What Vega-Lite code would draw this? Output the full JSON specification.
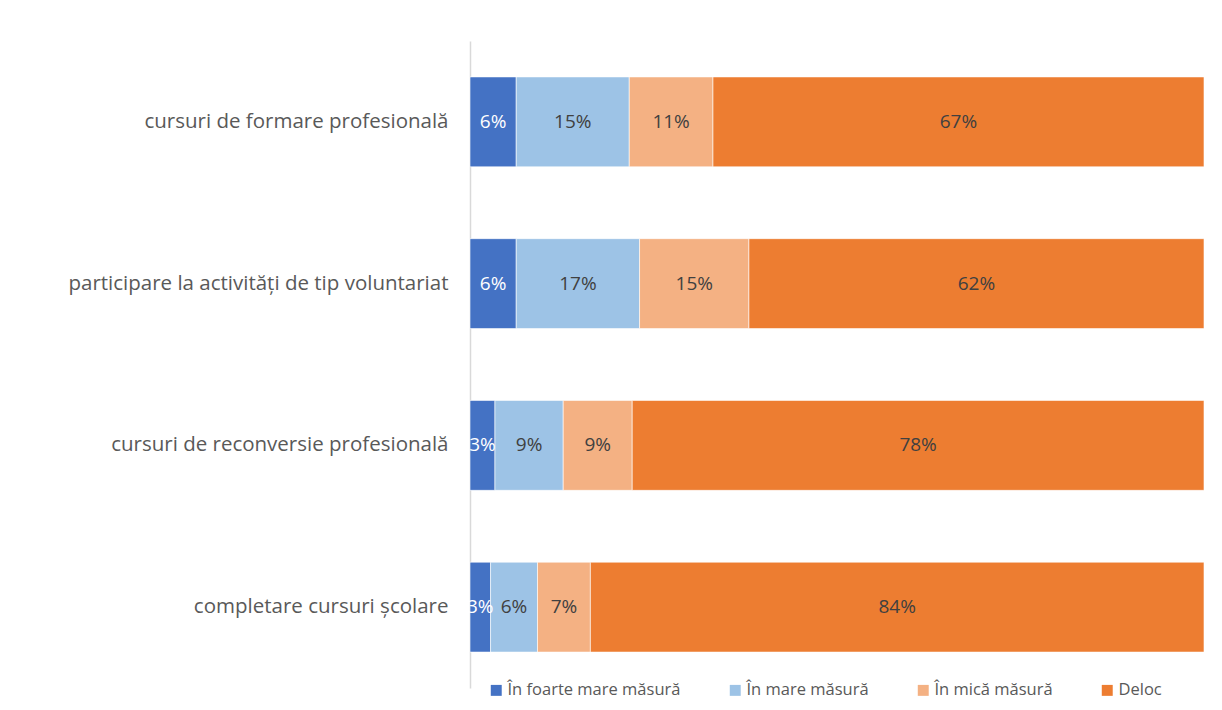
{
  "$schema": "https://vega.github.io/schema/vega-lite/v6.json",
  "autosize": "none",
  "width": 734,
  "height": 647,
  "padding": {"left": 470, "top": 41, "right": 18, "bottom": 22},
  "background": "white",
  "config": {"view": {"stroke": null}, "font": "Open Sans"},
  "data": {"values": [
    {"cat": "cursuri de formare profesională", "resp": "În foarte mare măsură", "k": 1, "v": 0.063},
    {"cat": "cursuri de formare profesională", "resp": "În mare măsură", "k": 2, "v": 0.154},
    {"cat": "cursuri de formare profesională", "resp": "În mică măsură", "k": 3, "v": 0.114},
    {"cat": "cursuri de formare profesională", "resp": "Deloc", "k": 4, "v": 0.669},
    {"cat": "participare la activități de tip voluntariat", "resp": "În foarte mare măsură", "k": 1, "v": 0.063},
    {"cat": "participare la activități de tip voluntariat", "resp": "În mare măsură", "k": 2, "v": 0.168},
    {"cat": "participare la activități de tip voluntariat", "resp": "În mică măsură", "k": 3, "v": 0.149},
    {"cat": "participare la activități de tip voluntariat", "resp": "Deloc", "k": 4, "v": 0.62},
    {"cat": "cursuri de reconversie profesională", "resp": "În foarte mare măsură", "k": 1, "v": 0.034},
    {"cat": "cursuri de reconversie profesională", "resp": "În mare măsură", "k": 2, "v": 0.093},
    {"cat": "cursuri de reconversie profesională", "resp": "În mică măsură", "k": 3, "v": 0.094},
    {"cat": "cursuri de reconversie profesională", "resp": "Deloc", "k": 4, "v": 0.779},
    {"cat": "completare cursuri școlare", "resp": "În foarte mare măsură", "k": 1, "v": 0.028},
    {"cat": "completare cursuri școlare", "resp": "În mare măsură", "k": 2, "v": 0.064},
    {"cat": "completare cursuri școlare", "resp": "În mică măsură", "k": 3, "v": 0.072},
    {"cat": "completare cursuri școlare", "resp": "Deloc", "k": 4, "v": 0.836}
  ]},
  "transform": [
    {"stack": "v", "groupby": ["cat"], "sort": [{"field": "k", "order": "ascending"}], "offset": "normalize", "as": ["v0", "v1"]},
    {"calculate": "(datum.v0 + datum.v1) / 2", "as": "vmid"}
  ],
  "encoding": {
    "y": {
      "field": "cat", "type": "nominal", "sort": null,
      "scale": {"paddingInner": 0.444, "paddingOuter": 0.222},
      "axis": {"title": null, "ticks": false, "domainColor": "#D9D9D9", "domainWidth": 1.5,
               "labelFontSize": 20.5, "labelColor": "#595959", "labelPadding": 22, "labelLimit": 460}
    }
  },
  "layer": [
    {
      "mark": {"type": "bar", "stroke": "white", "strokeWidth": 0.6},
      "encoding": {
        "x": {"field": "v0", "type": "quantitative", "axis": null, "scale": {"domain": [0, 1], "nice": false}},
        "x2": {"field": "v1"},
        "color": {
          "field": "resp", "type": "nominal",
          "scale": {"domain": ["În foarte mare măsură", "În mare măsură", "În mică măsură", "Deloc"],
                    "range": ["#4472C4", "#9DC3E6", "#F4B183", "#ED7D31"]},
          "legend": {"title": null, "orient": "none", "direction": "horizontal", "legendX": 18, "legendY": 641,
                     "symbolType": "square", "symbolSize": 120, "symbolStrokeWidth": 0, "labelFontSize": 16.5, "labelColor": "#595959",
                     "columnPadding": 46, "labelOffset": 3, "labelLimit": 300}
        }
      }
    },
    {
      "mark": {"type": "text", "fontSize": 19},
      "encoding": {
        "x": {"field": "vmid", "type": "quantitative"},
        "text": {"field": "v", "type": "quantitative", "format": ".0%"},
        "color": {
          "condition": {"test": "datum.k === 1", "value": "white"},
          "value": "#404040"
        }
      }
    }
  ]
}
